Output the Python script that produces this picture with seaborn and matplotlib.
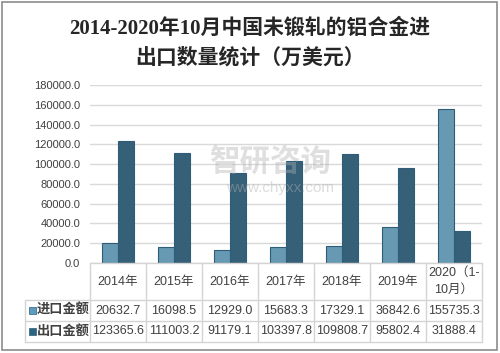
import matplotlib.pyplot as plt
import seaborn as sns
import pandas as pd
from matplotlib.patches import Rectangle

# 数据
years = ['2014年', '2015年', '2016年', '2017年', '2018年', '2019年', '2020（1-\n10月）']
imports = [20632.7, 16098.5, 12929.0, 15683.3, 17329.1, 36842.6, 155735.3]
exports = [123365.6, 111003.2, 91179.1, 103397.8, 109808.7, 95802.4, 31888.4]
series = ['进口金额', '出口金额']
colors = ['#5b9dc0', '#2b6383']
yticks = list(range(0, 180001, 20000))

sns.set_style('white')
plt.rcParams['font.family'] = ['Liberation Sans', 'Noto Sans CJK SC']

df = pd.DataFrame({
    '年份': years * 2,
    '金额': imports + exports,
    '类型': [series[0]] * len(years) + [series[1]] * len(years),
})

W, H = 500, 353
fig = plt.figure(figsize=(W / 100, H / 100), dpi=100)

# 主图区域
L, R, T, B = 90, 482, 85, 263
ax = fig.add_axes([L / W, 1 - B / H, (R - L) / W, (B - T) / H])
sns.barplot(data=df, x='年份', y='金额', hue='类型', palette=colors,
            width=0.58, edgecolor='#2f5d78', linewidth=0.8,
            legend=False, ax=ax)
ax.set_ylim(0, 180000)
ax.set_yticks(yticks)
ax.set_yticklabels([f'{v:.1f}' for v in yticks], fontsize=8, color='#404040')
ax.tick_params(axis='y', length=0, pad=7)
ax.set_xticks([])
ax.set_xlabel('')
ax.set_ylabel('')
ax.yaxis.grid(True, color='#d9d9d9', linewidth=1)
ax.set_axisbelow(True)
for s in ax.spines.values():
    s.set_visible(False)
ax.set_xlim(-0.5, len(years) - 0.5)

# 标题
fig.text(0.5, 1 - 29 / H, '2014-2020年10月中国未锻轧的铝合金进', ha='center', va='center',
         fontsize=15, fontweight='bold', family=['Liberation Serif', 'Noto Sans CJK SC'])
fig.text(0.5, 1 - 58 / H, '出口数量统计（万美元）', ha='center', va='center',
         fontsize=15, fontweight='bold', family=['Liberation Serif', 'Noto Sans CJK SC'])

# 水印
fig.text(0.54, 1 - 163 / H, '智研咨询', ha='center', va='center', fontsize=22,
         color='#b0b0b0', alpha=0.4, fontweight='bold')
fig.text(0.56, 1 - 188 / H, 'www.chyxx.com', ha='center', va='center', fontsize=11,
         color='#b0b0b0', alpha=0.45)

# 数据表
ov = fig.add_axes([0, 0, 1, 1])
ov.set_xlim(0, W)
ov.set_ylim(H, 0)
ov.axis('off')
ov.patch.set_alpha(0)

line_c = '#d4d4d4'
n = len(years)
cw = (R - L) / n
x0 = 25
r0, r1, r2, r3 = B, 300, 321, 342

ov.plot([L, R], [r0, r0], color=line_c, lw=1)
for y in (r1, r2, r3):
    ov.plot([x0, R], [y, y], color=line_c, lw=1)
ov.plot([x0, x0], [r1, r3], color=line_c, lw=1)
for i in range(n + 1):
    x = L + i * cw
    ov.plot([x, x], [r0, r3], color=line_c, lw=1)

tcolor = '#404040'
for i in range(n):
    cx = L + (i + 0.5) * cw
    ov.text(cx, (r0 + r1) / 2, years[i], ha='center', va='center', fontsize=9,
            color=tcolor, linespacing=1.6)
    ov.text(cx, (r1 + r2) / 2, f'{imports[i]:.1f}', ha='center', va='center',
            fontsize=9, color=tcolor)
    ov.text(cx, (r2 + r3) / 2, f'{exports[i]:.1f}', ha='center', va='center',
            fontsize=9, color=tcolor)

for k, (yc, name) in enumerate([((r1 + r2) / 2, series[0]), ((r2 + r3) / 2, series[1])]):
    ov.add_patch(Rectangle((29, yc - 3.5), 7, 7, facecolor=colors[k],
                           edgecolor='#2f5d78', lw=0.5))
    ov.text(37, yc, name, ha='left', va='center', fontsize=9.5, color=tcolor,
            fontweight='bold')

# 外框
ov.add_patch(Rectangle((2, 2), W - 5, H - 5, fill=False, edgecolor='#8c8c8c', lw=1.2))

fig.savefig('out.png', dpi=100)
